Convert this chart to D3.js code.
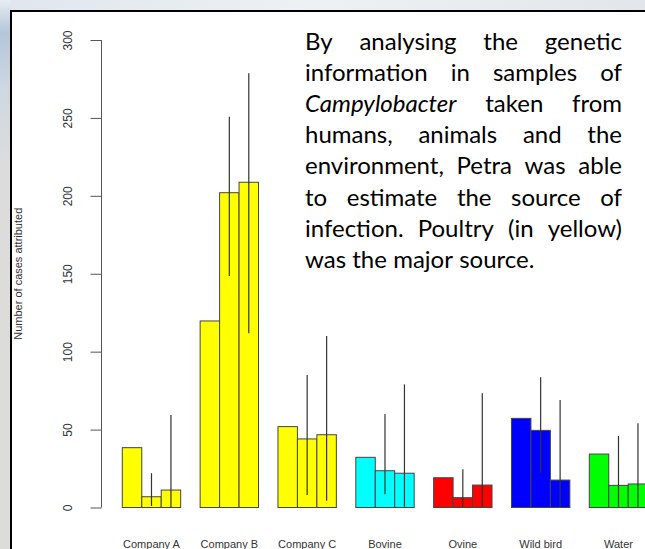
<!DOCTYPE html>
<html lang="en">
<head>
<meta charset="UTF-8"/>
<title>Campylobacter source attribution</title>
<script src="https://cdn.jsdelivr.net/npm/d3@7"></script>
<style>
body { margin: 0; background: #fff; }
svg { display: block; }
.axis path, .axis line { stroke: #555; stroke-width: 1px; }
.axis text, .cat, .ytitle {
  font-family: "Liberation Sans", Arial, sans-serif;
  font-size: 11px;
  fill: #333;
}
.axis text { font-size: 12px; }
.blurb { font-family: Lato, "Open Sans", sans-serif; fill: #000; }
</style>
</head>
<body>
<svg id="viz"></svg>

<script>
var width = 645,
    height = 549;

// data
var categories = ["Company A", "Company B", "Company C", "Bovine", "Ovine", "Wild bird", "Water"];
var colors = ["#ffff00", "#ffff00", "#ffff00", "#00ffff", "#ff0000", "#0000ff", "#00ff00"];
var est1 = [38.4, 119.7, 51.9, 32.2, 19.1, 57.2, 34.3];
var est2 = [6.9, 202, 44, 23.6, 6.3, 49.5, 14.2];
var est3 = [11.2, 208.7, 46.7, 22, 14.4, 17.6, 15.1];
var lo2 = [1, 148.6, 8, 8.5, 0.5, 22.3, 0.5];
var hi2 = [22, 250.8, 85, 60, 24.5, 83.6, 45.9];
var lo3 = [0, 111.8, 4.4, 0.5, 0.5, 0.5, 0.5];
var hi3 = [59.4, 278.7, 110, 79, 73.3, 69, 54];
var yTicks = [0, 50, 100, 150, 200, 250, 300];
var yTitle = "Number of cases attributed";
var blurb = [
  ["By", "analysing", "the", "genetic"],
  ["information", "in", "samples", "of"],
  ["*Campylobacter", "taken", "from"],
  ["humans,", "animals", "and", "the"],
  ["environment,", "Petra", "was", "able"],
  ["to", "estimate", "the", "source", "of"],
  ["infection.", "Poultry", "(in", "yellow)"],
  ["was", "the", "major", "source."]
];

var svg = d3.select("#viz")
    .attr("width", width)
    .attr("height", height);

// blurry photo background behind the white panel
var defs = svg.append("defs");
var gLeft = defs.append("linearGradient").attr("id", "bgleft")
    .attr("x1", 0).attr("y1", 0).attr("x2", 0).attr("y2", 1);
gLeft.append("stop").attr("offset", "0").attr("stop-color", "#e6ecf2");
gLeft.append("stop").attr("offset", "0.06").attr("stop-color", "#b4c6d8");
gLeft.append("stop").attr("offset", "0.16").attr("stop-color", "#cdd8e2");
gLeft.append("stop").attr("offset", "0.3").attr("stop-color", "#dcdcdc");
gLeft.append("stop").attr("offset", "1").attr("stop-color", "#dcdcda");
var gTop = defs.append("linearGradient").attr("id", "bgtop")
    .attr("x1", 0).attr("y1", 0).attr("x2", 1).attr("y2", 0);
gTop.append("stop").attr("offset", "0").attr("stop-color", "#dfe6ee");
gTop.append("stop").attr("offset", "0.5").attr("stop-color", "#eef1f4");
gTop.append("stop").attr("offset", "1").attr("stop-color", "#e2e6ea");

svg.append("rect").attr("width", width).attr("height", height).attr("fill", "url(#bgtop)");
svg.append("rect").attr("width", 11).attr("height", height).attr("fill", "url(#bgleft)");

svg.append("rect")
    .attr("x", 11).attr("y", 11)
    .attr("width", width + 20).attr("height", height + 20)
    .attr("fill", "#fff")
    .attr("stroke", "#000")
    .attr("stroke-width", 2);

// scales: x in bar units (R barplot, space = c(0,1))
var x = d3.scaleLinear().domain([1, 25]).range([122.3, 589.3]);
var y = d3.scaleLinear().domain([0, 300]).range([507.5, 40]);
var bw = x(2) - x(1);

var bars = [];
categories.forEach(function(c, i) {
  var u = 1 + 4 * i;
  bars.push({u: u, v: est1[i], col: colors[i]});
  bars.push({u: u + 1, v: est2[i], col: colors[i], lo: lo2[i], hi: hi2[i]});
  bars.push({u: u + 2, v: est3[i], col: colors[i], lo: lo3[i], hi: hi3[i]});
});

svg.append("g").selectAll("rect")
    .data(bars)
    .enter().append("rect")
    .attr("x", function(d) { return x(d.u); })
    .attr("y", function(d) { return y(d.v); })
    .attr("width", bw)
    .attr("height", function(d) { return y(0) - y(d.v); })
    .attr("fill", function(d) { return d.col; })
    .attr("stroke", "#444")
    .attr("stroke-width", 1);

// interval lines on the 2nd and 3rd bar of each group
svg.append("g").selectAll("line")
    .data(bars.filter(function(d) { return d.hi != null; }))
    .enter().append("line")
    .attr("x1", function(d) { return x(d.u) + bw / 2; })
    .attr("x2", function(d) { return x(d.u) + bw / 2; })
    .attr("y1", function(d) { return y(d.lo); })
    .attr("y2", function(d) { return y(d.hi); })
    .attr("stroke", "#333")
    .attr("stroke-width", 1.2);

// y axis, labels turned like R's default
var yAxis = svg.append("g")
    .attr("class", "axis")
    .attr("transform", "translate(101.5,0)")
    .call(d3.axisLeft(y).tickValues(yTicks).tickSize(11).tickSizeOuter(0));
yAxis.select(".domain").attr("d", "M0," + y(0) + "V" + y(300));
yAxis.selectAll(".tick text")
    .attr("transform", "rotate(-90)")
    .attr("x", 0)
    .attr("y", -33.5)
    .attr("dy", "0.35em")
    .attr("text-anchor", "middle");

svg.append("text")
    .attr("class", "ytitle")
    .attr("transform", "translate(22," + (y(0) + y(300)) / 2 + ") rotate(-90)")
    .attr("text-anchor", "middle")
    .text(yTitle);

svg.append("g").selectAll("text")
    .data(categories)
    .enter().append("text")
    .attr("class", "cat")
    .attr("x", function(d, i) { return x(1 + 4 * i) + 1.5 * bw; })
    .attr("y", 548)
    .attr("text-anchor", "middle")
    .text(function(d) { return d; });

// justified paragraph, word by word
var tLeft = 305, tRight = 622, tTop = 50, lineH = 31.1, fs = 24;
var tg = svg.append("g").attr("class", "blurb");
blurb.forEach(function(words, li) {
  var nodes = words.map(function(w) {
    var it = w.charAt(0) == "*";
    return tg.append("text")
      .attr("y", tTop + li * lineH)
      .attr("font-size", fs)
      .attr("font-style", it ? "italic" : "normal")
      .text(it ? w.slice(1) : w);
  });
  var widths = nodes.map(function(n) { return n.node().getComputedTextLength(); });
  var total = d3.sum(widths);
  var gap = (tRight - tLeft - total) / (words.length - 1);
  if (li == blurb.length - 1) gap = fs * 0.26;   // last line not stretched
  var cx = tLeft;
  nodes.forEach(function(n, k) {
    n.attr("x", cx);
    cx += widths[k] + gap;
  });
});
</script>
</body>
</html>
